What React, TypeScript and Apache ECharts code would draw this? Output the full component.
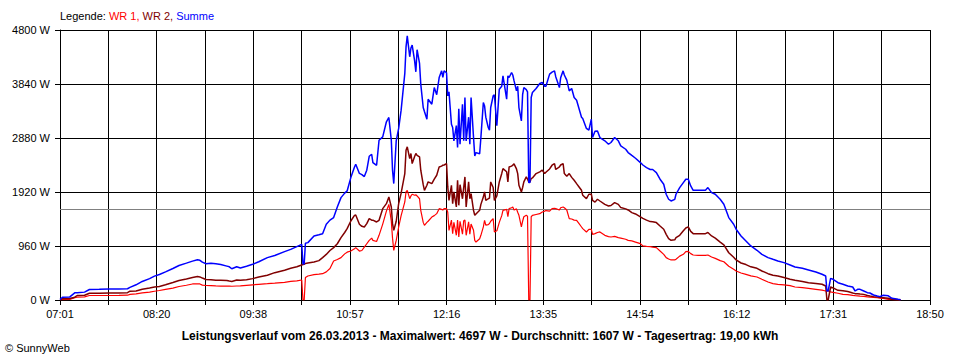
import React, { useEffect, useRef } from "react";
import * as echarts from "echarts";

// ---- data (26.03.2013) ----
const TIMES = [
  "07:01","07:03","07:09","07:13","07:15","07:21","07:25","07:33","07:41","07:49","07:56","07:58",
  "08:03","08:08","08:14","08:18","08:22","08:27","08:33","08:38","08:44","08:49","08:53","08:55","08:57",
  "09:00","09:04","09:08","09:12","09:17","09:19","09:21","09:25","09:28","09:33","09:38","09:43","09:50","09:56",
  "10:04","10:09","10:14","10:18","10:19","10:20","10:21","10:23","10:28","10:32","10:35","10:38","10:41","10:44",
  "10:47","10:50","10:53","10:55","10:58","11:01","11:02","11:05","11:07","11:09","11:11","11:13","11:15","11:16",
  "11:19","11:21","11:24","11:27","11:29","11:31","11:32","11:33","11:35","11:37","11:39","11:42","11:43","11:44",
  "11:46","11:47","11:48","11:50","11:51","11:52","11:54","11:55","11:57","11:58","12:00","12:01","12:04","12:06",
  "12:08","12:10","12:12","12:13","12:14","12:16","12:17","12:18","12:20","12:21","12:22","12:24","12:25","12:26",
  "12:27","12:29","12:30","12:31","12:32","12:34","12:35","12:36","12:38","12:39","12:40","12:43","12:44","12:46",
  "12:47","12:48","12:50","12:51","12:52","12:54","12:55","12:57","12:59","13:01","13:02","13:05","13:06","13:07",
  "13:09","13:10","13:11","13:13","13:14","13:15","13:17","13:18","13:19","13:21","13:22","13:23","13:24","13:25",
  "13:26","13:29","13:32","13:34","13:36","13:37","13:40","13:42","13:44","13:45","13:48","13:49","13:51","13:52",
  "13:54","13:56","13:58","14:00","14:02","14:04","14:06","14:07","14:10","14:12","14:14","14:15","14:17","14:19",
  "14:21","14:25","14:28","14:30","14:33","14:36","14:38","14:42","14:44","14:47","14:50","14:54","14:56","14:59",
  "15:02","15:04","15:07","15:10","15:13","15:15","15:17","15:19","15:22","15:23","15:26","15:29","15:31","15:33",
  "15:35","15:37","15:41","15:47","15:49","15:52","15:55","15:59","16:02","16:06","16:10","16:12","16:16","16:20",
  "16:24","16:29","16:33","16:38","16:42","16:46","16:51","16:56","17:00","17:06","17:11","17:17","17:22","17:25",
  "17:26","17:27","17:29","17:31","17:35","17:39","17:43","17:47","17:49","17:51","17:53","17:56","17:59","18:01",
  "18:04","18:07","18:09","18:12","18:16","18:19","18:24","18:26"
];

const SUMME = [
  10,50,55,128,128,140,187,190,195,195,200,225,
  270,330,380,425,454,500,560,614,655,691,716,705,673,
  645,655,645,630,602,590,556,590,570,600,634,680,753,790,
  860,900,950,990,640,645,1010,1020,1138,1160,1179,1346,1420,1465,
  1653,1820,1900,1939,2176,2365,2413,2250,2230,2194,2307,2555,2591,2443,
  2395,2840,2900,3168,3245,2840,2307,2070,2829,3050,3375,4028,4500,4697,
  4324,4480,4533,4250,4057,4450,4205,3837,3422,3350,3214,3570,3481,3777,
  3650,3955,4074,3960,4074,4040,3629,3700,3125,3066,2829,3100,2710,3400,
  2770,3481,2830,3600,2829,3250,2770,3600,2888,2562,2620,2600,2888,3511,
  3450,3250,3066,3020,3422,3629,3650,3100,3748,3800,3985,3570,3985,3955,
  4044,4000,3900,3718,3800,3422,3184,3650,3777,3740,3700,2087,2087,3600,
  3688,3761,3850,3866,3800,3800,4015,4050,4074,3970,3777,3950,4074,4000,
  3910,3718,3761,3600,3550,3400,3250,3227,3050,3019,3214,2888,3000,3006,
  2888,2830,2769,2800,2888,2830,2740,2680,2621,2570,2520,2443,2400,2354,
  2320,2320,2265,2147,2058,1880,1791,1761,1790,1880,1998,2087,2147,2147,
  2028,1951,1951,1951,1998,1909,1880,1791,1702,1465,1346,1257,1139,1050,
  961,884,812,753,723,694,664,623,587,563,534,498,457,427,
  160,160,385,368,308,279,249,231,160,190,190,160,130,125,
  89,71,60,83,75,30,12,5
];

const WR2 = [
  10,21,25,50,80,85,121,121,125,125,130,157,
  160,190,212,230,240,270,310,347,375,400,418,410,390,
  365,362,352,350,347,338,330,356,350,360,380,409,440,486,
  530,563,590,623,630,635,650,658,676,700,753,810,880,931,
  1000,1109,1200,1268,1405,1505,1512,1346,1310,1299,1357,1446,1420,1420,
  1387,1417,1624,1713,1832,1654,1357,1238,1400,1713,1900,2247,2663,2723,
  2515,2604,2426,2550,2604,2570,2545,2307,2050,1950,2040,2100,2069,2150,
  2218,2366,2380,2396,2400,2426,2010,1772,2040,1713,1921,1654,2129,1683,
  2050,1800,2000,2188,1654,2100,1800,1890,1594,1506,1530,1594,1700,1830,
  1921,1770,1800,1810,2099,2000,1772,1850,2099,2250,2336,2280,2100,2366,
  2380,2396,2420,2330,2247,2040,1921,2000,2100,2188,2150,2099,2100,2159,
  2170,2247,2277,2307,2250,2270,2330,2396,2426,2320,2366,2400,2426,2247,
  2200,2247,2180,2129,2069,2010,1950,1862,1802,1880,1880,1772,1740,1791,
  1760,1700,1672,1680,1732,1700,1643,1620,1601,1554,1530,1477,1450,1420,
  1394,1390,1376,1316,1257,1168,1091,1061,1070,1110,1150,1230,1280,1299,
  1220,1180,1180,1180,1200,1139,1100,1030,980,840,760,712,658,630,
  590,563,516,468,440,427,400,370,350,330,308,295,280,249,
  0,0,231,215,172,165,150,125,113,110,105,100,80,71,
  60,53,48,42,30,12,5,3
];

const WR1 = [
  5,5,10,40,50,55,80,80,80,82,85,100,
  110,125,140,155,169,190,212,240,262,285,288,285,265,
  258,255,250,248,246,245,244,249,250,260,270,279,290,300,
  315,330,340,356,0,0,400,427,450,460,468,500,560,694,
  720,753,820,850,872,910,931,870,880,940,1000,1060,1100,1060,
  1040,1150,1350,1580,1700,1400,1100,882,1060,1298,1500,1743,1921,1950,
  1802,1850,1880,1862,1870,1850,1800,1594,1380,1327,1380,1400,1475,1500,
  1535,1624,1610,1600,1624,1624,1560,1238,1420,1179,1380,1150,1420,1120,
  1400,1170,1410,1420,1150,1390,1170,1350,1240,1060,1030,1090,1150,1300,
  1416,1330,1340,1360,1400,1446,1209,1230,1380,1500,1594,1610,1480,1624,
  1640,1654,1600,1620,1560,1505,1298,1400,1480,1505,1490,0,0,1480,
  1505,1520,1535,1565,1580,1590,1580,1624,1630,1624,1600,1640,1654,1640,
  1600,1446,1440,1420,1416,1357,1298,1268,1209,1257,1257,1168,1180,1200,
  1210,1150,1127,1120,1130,1109,1100,1080,1060,1050,1030,1002,961,955,
  950,940,931,872,812,753,730,712,712,725,780,812,860,865,
  824,800,795,795,800,765,740,700,680,600,545,516,480,455,
  430,409,368,320,290,279,268,255,231,220,208,190,175,160,
  160,160,145,135,120,101,95,83,78,75,70,65,55,50,
  45,40,35,30,12,5,3,0
];

const X_LABELS = ["07:01","08:20","09:38","10:57","12:16","13:35","14:54","16:12","17:31","18:50"];
const AVERAGE_W = 1607;
const MAX_W = 4697;
const DATE = "26.03.2013";
const DAY_YIELD = "19,00";
const START = "07:01";
const END = "18:50";
const DIVISIONS = 18;

const toMin = (s: string) => {
  const [h, m] = s.split(":").map(Number);
  return h * 60 + m;
};

const FONT = "'Liberation Sans', Arial, sans-serif";

export default function App() {
  const ref = useRef<HTMLDivElement>(null);

  useEffect(() => {
    if (!ref.current) return;
    const chart = echarts.init(ref.current, undefined, { renderer: "svg" });
    const start = toMin(START);
    const span = toMin(END) - start;
    const xOf = (t: string) => ((toMin(t) - start) / span) * DIVISIONS;
    const pts = (vals: number[]) => TIMES.map((t, i) => [xOf(t), vals[i]]);

    const title = `Leistungsverlauf vom ${DATE} - Maximalwert: ${MAX_W} W - Durchschnitt: ${AVERAGE_W} W - Tagesertrag: ${DAY_YIELD} kWh`;

    chart.setOption({
      animation: false,
      backgroundColor: "#ffffff",
      textStyle: { fontFamily: FONT },
      grid: { left: 60, top: 30, width: 870, height: 270, containLabel: false },
      xAxis: {
        type: "value",
        min: 0,
        max: DIVISIONS,
        interval: 1,
        axisLine: { show: true, lineStyle: { color: "#000", width: 1 } },
        axisTick: { show: true, length: 5, interval: 0, lineStyle: { color: "#000", width: 1 } },
        splitLine: { show: true, lineStyle: { color: "#000", width: 1 } },
        axisLabel: {
          show: true,
          interval: 0,
          margin: 8,
          color: "#000",
          fontSize: 11,
          fontFamily: FONT,
          showMinLabel: true,
          showMaxLabel: true,
          formatter: (v: number) => {
            const i = Math.round(v);
            return i % 2 === 0 ? X_LABELS[i / 2] ?? "" : "";
          },
        },
      },
      yAxis: {
        type: "value",
        min: 0,
        max: 4800,
        interval: 960,
        axisLine: { show: true, lineStyle: { color: "#000", width: 1 } },
        axisTick: { show: true, length: 5, lineStyle: { color: "#000", width: 1 } },
        splitLine: { show: true, lineStyle: { color: "#000", width: 1 } },
        axisLabel: {
          margin: 10,
          color: "#000",
          fontSize: 11,
          fontFamily: FONT,
          formatter: (v: number) => `${Math.round(v)} W`,
        },
      },
      graphic: [
        {
          type: "text",
          x: 60,
          y: 16,
          style: {
            text: "{k|Legende: }{a|WR 1, }{b|WR 2, }{c|Summe}",
            verticalAlign: "middle",
            fontSize: 11,
            fontFamily: FONT,
            rich: {
              k: { fill: "#000", fontSize: 11, fontFamily: FONT },
              a: { fill: "#ff0000", fontSize: 11, fontFamily: FONT },
              b: { fill: "#800000", fontSize: 11, fontFamily: FONT },
              c: { fill: "#0000ff", fontSize: 11, fontFamily: FONT },
            },
          },
        },
        {
          type: "text",
          x: 480,
          y: 336,
          style: {
            text: title,
            align: "center",
            verticalAlign: "middle",
            fontSize: 12,
            fontWeight: "bold",
            fontFamily: FONT,
            fill: "#000",
          },
        },
        {
          type: "text",
          x: 5,
          y: 348,
          style: {
            text: "© SunnyWeb",
            verticalAlign: "middle",
            fontSize: 11,
            fontFamily: FONT,
            fill: "#000",
          },
        },
      ],
      series: [
        {
          name: "WR 1",
          type: "line",
          data: pts(WR1),
          showSymbol: false,
          symbol: "none",
          lineStyle: { color: "#ff0000", width: 1.2 },
          itemStyle: { color: "#ff0000" },
          z: 3,
          markLine: {
            silent: true,
            symbol: "none",
            label: { show: false },
            lineStyle: { color: "#808080", width: 1, type: "solid" },
            data: [{ yAxis: AVERAGE_W }],
            z: 1,
          },
        },
        {
          name: "WR 2",
          type: "line",
          data: pts(WR2),
          showSymbol: false,
          symbol: "none",
          lineStyle: { color: "#800000", width: 1.5 },
          itemStyle: { color: "#800000" },
          z: 4,
        },
        {
          name: "Summe",
          type: "line",
          data: pts(SUMME),
          showSymbol: false,
          symbol: "none",
          lineStyle: { color: "#0000ff", width: 1.5 },
          itemStyle: { color: "#0000ff" },
          z: 5,
        },
      ],
    });

    return () => chart.dispose();
  }, []);

  return (
    <div
      ref={ref}
      style={{ position: "fixed", left: 0, top: 0, width: 960, height: 360, background: "#fff" }}
    />
  );
}
